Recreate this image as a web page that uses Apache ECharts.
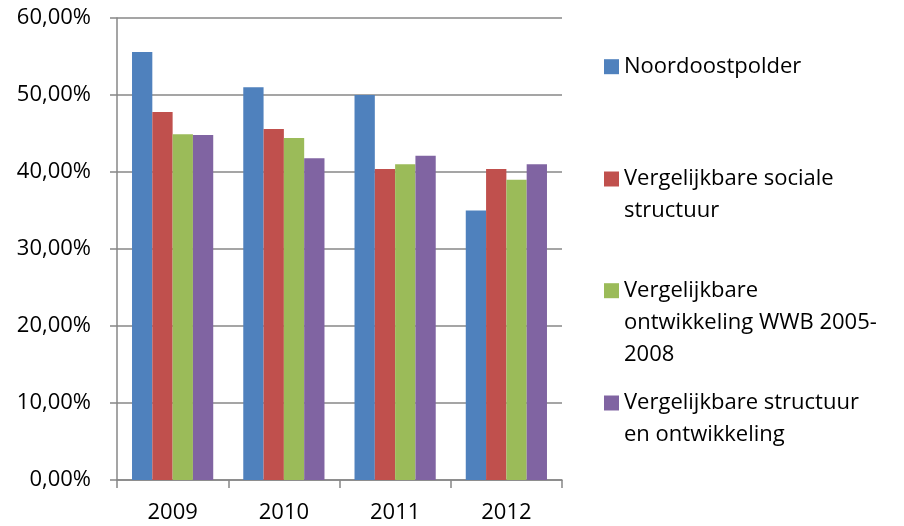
<!DOCTYPE html>
<html>
<head>
    <meta charset="utf-8">
    <title>ECharts</title>
    <script src="https://cdn.jsdelivr.net/npm/echarts@6/dist/echarts.min.js"></script>
    <style>
        html, body { margin: 0; padding: 0; background: #fff; }
    </style>
</head>
<body>
    <div id="main" style="width: 904px;height:526px;"></div>
    <script type="text/javascript">
        // categories and values (percent)
        var years = ['2009', '2010', '2011', '2012'];
        var seriesNames = [
            'Noordoostpolder',
            'Vergelijkbare sociale structuur',
            'Vergelijkbare ontwikkeling WWB 2005-2008',
            'Vergelijkbare structuur en ontwikkeling'
        ];
        var legendLabels = [
            'Noordoostpolder',
            'Vergelijkbare sociale\nstructuur',
            'Vergelijkbare\nontwikkeling WWB 2005-\n2008',
            'Vergelijkbare structuur\nen ontwikkeling'
        ];
        var noordoostpolder = [55.6, 51.0, 50.0, 35.0];
        var socialeStructuur = [47.8, 45.6, 40.4, 40.4];
        var ontwikkelingWWB = [44.9, 44.4, 41.0, 39.0];
        var structuurOntwikkeling = [44.8, 41.8, 42.1, 41.0];
        var yTicks = [0, 10, 20, 30, 40, 50, 60];

        var values = [noordoostpolder, socialeStructuur, ontwikkelingWWB, structuurOntwikkeling];
        var colors = ['#4F81BD', '#C0504D', '#9BBB59', '#8064A2'];
        var font = '"Open Sans", sans-serif';
        var lineH = 32;
        var legendIconY = [66.7, 179, 290.7, 403];

        var myChart = echarts.init(document.getElementById('main'));

        // legend text is centred on its icon; blank lines in front push the
        // first real line level with the square, like the original
        var legends = seriesNames.map(function (name, i) {
            var lines = legendLabels[i].split('\n');
            var n = lines.length;
            var label = new Array(n).join('\n') + legendLabels[i];
            return {
                data: [name],
                orient: 'vertical',
                left: 604,
                top: legendIconY[i] - (2 * n - 1) * lineH / 2,
                padding: 0,
                icon: 'rect',
                itemWidth: 15,
                itemHeight: 15,
                selectedMode: false,
                formatter: function () { return label; },
                textStyle: {
                    fontFamily: font,
                    fontSize: 22,
                    color: '#000',
                    lineHeight: lineH
                }
            };
        });

        var option = {
            animation: false,
            color: colors,
            grid: { left: 117, top: 18, right: 342, bottom: 46 },
            legend: legends,
            xAxis: {
                type: 'category',
                data: years,
                axisLine: { lineStyle: { color: '#878787', width: 1.5 } },
                axisTick: { show: true, length: 8, lineStyle: { color: '#878787', width: 1.5 } },
                axisLabel: { fontFamily: font, fontSize: 22, color: '#000', margin: 22 }
            },
            yAxis: {
                type: 'value',
                min: yTicks[0],
                max: yTicks[yTicks.length - 1],
                interval: 10,
                axisLine: { show: true, lineStyle: { color: '#878787', width: 1.5 } },
                axisTick: { show: true, length: 7, lineStyle: { color: '#878787', width: 1.5 } },
                splitLine: { lineStyle: { color: '#878787', width: 1.5 } },
                axisLabel: {
                    fontFamily: font,
                    fontSize: 22,
                    color: '#000',
                    margin: 26,
                    formatter: function (v) { return v.toFixed(2).replace('.', ',') + '%'; }
                }
            },
            series: seriesNames.map(function (name, i) {
                return {
                    name: name,
                    type: 'bar',
                    data: values[i],
                    barGap: '0%',
                    barCategoryGap: '27%'
                };
            })
        };
        myChart.setOption(option);
    </script>
</body>
</html>
